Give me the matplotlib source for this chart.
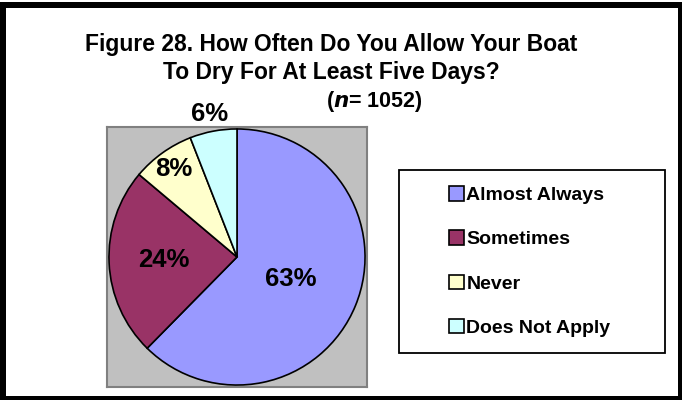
import numpy as np
import matplotlib
matplotlib.use("Agg")
import matplotlib.pyplot as plt
from matplotlib.patches import Rectangle

categories = ["Almost Always", "Sometimes", "Never", "Does Not Apply"]
shares = [63, 24, 8, 6]
pct_labels = ["63%", "24%", "8%", "6%"]
colors = ["#9999FF", "#993366", "#FFFFCC", "#CCFFFF"]
# how far from the centre each label sits (fraction of radius)
label_dist = [0.45, 0.56, 0.83, 1.12]

plt.rcParams['font.family'] = ['Liberation Sans', 'DejaVu Sans']

fig = plt.figure(figsize=(6.82, 4.0), dpi=100)
fig.patch.set_facecolor("white")

W, H = 682.0, 400.0

def fbox(x0, y0, x1, y1):
    # pixel box (top-left origin) -> figure fraction rect
    return [x0 / W, 1 - y1 / H, (x1 - x0) / W, (y1 - y0) / H]

ax = fig.add_axes(fbox(107, 127, 367, 387))
ax.set_facecolor("#C0C0C0")
for s in ax.spines.values():
    s.set_color("#808080")
    s.set_linewidth(1.5)

wedges, _ = ax.pie(shares, colors=colors, startangle=90, counterclock=False,
                   radius=0.985, wedgeprops=dict(edgecolor="black", linewidth=1.2))
ax.set_xlim(-1, 1)
ax.set_ylim(-1, 1)
ax.set_aspect("equal")
ax.set_xticks([])
ax.set_yticks([])
ax.set_frame_on(True)

for w, lab, d in zip(wedges, pct_labels, label_dist):
    mid = np.deg2rad((w.theta1 + w.theta2) / 2)
    ax.text(d * np.cos(mid), d * np.sin(mid), lab, ha="center", va="center",
            fontsize=18.5, fontweight="bold", clip_on=False)

fig.text(331 / W, 1 - 45 / H, "Figure 28. How Often Do You Allow Your Boat",
         ha="center", va="center", fontsize=16.5, fontweight="bold")
fig.text(331 / W, 1 - 73 / H, "To Dry For At Least Five Days?",
         ha="center", va="center", fontsize=16.5, fontweight="bold")
fig.text(374 / W, 1 - 101 / H, r"($\boldsymbol{n}$= 1052)",
         ha="center", va="center", fontsize=15.5, fontweight="bold")

# legend box
lb = fbox(399, 170, 665, 353)
fig.add_artist(Rectangle((lb[0], lb[1]), lb[2], lb[3], transform=fig.transFigure,
                         facecolor="white", edgecolor="black", linewidth=1.3))
leg = fig.legend(wedges, categories, loc="center",
                 bbox_to_anchor=(lb[0] + lb[2] / 2 - 2 / W, lb[1] + lb[3] / 2),
                 bbox_transform=fig.transFigure, frameon=False,
                 prop=dict(size=14, weight="bold"),
                 handlelength=0.75, handleheight=0.75, handletextpad=0.12,
                 labelspacing=1.35, borderpad=0, borderaxespad=0)
for p in leg.get_patches():
    p.set_edgecolor("black")
    p.set_linewidth(1.2)

# black border around the whole picture
for x0, y0, x1, y1 in [(0, 2, 682, 8), (0, 2, 6, 400), (678, 2, 682, 400), (0, 396, 682, 400)]:
    b = fbox(x0, y0, x1, y1)
    fig.add_artist(Rectangle((b[0], b[1]), b[2], b[3], transform=fig.transFigure,
                             facecolor="black", edgecolor="none"))

fig.savefig("out.png", dpi=100, facecolor="white")
